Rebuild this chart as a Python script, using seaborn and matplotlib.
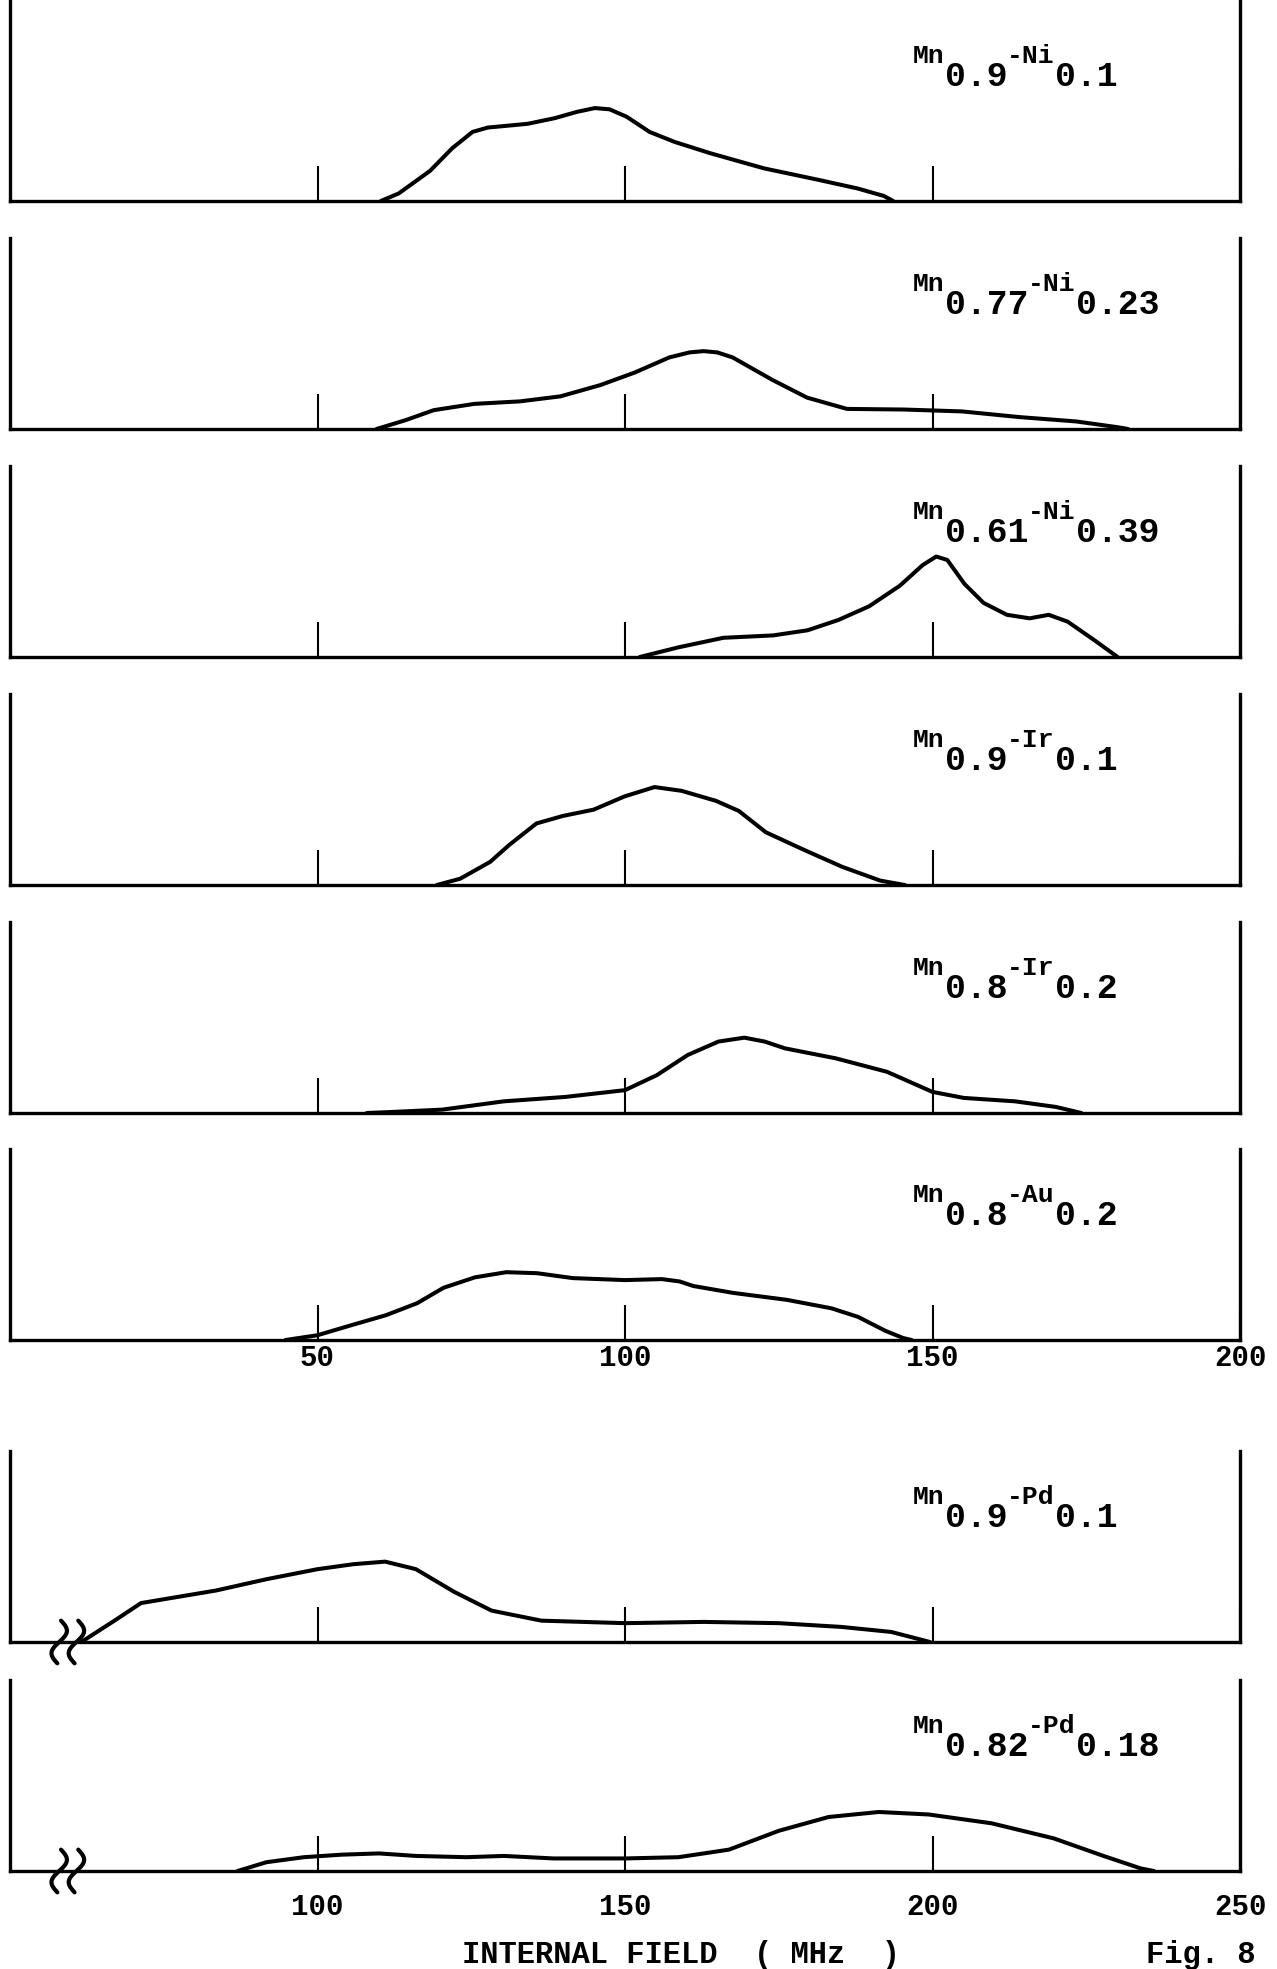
import numpy as np
import pandas as pd
import matplotlib
matplotlib.use("Agg")
import matplotlib.pyplot as plt
import seaborn as sns

# ---------------- data (x: internal field in MHz, y: relative amplitude, arb.) -------------
ni10_x = [60.3, 63.2, 68.3, 71.9, 75.2, 77.7, 81.0, 84.2, 88.6, 92.2, 95.1, 97.5, 100.3, 104.0,
          108.1, 113.9, 122.6, 131.3, 137.8, 142.1, 143.6]
ni10_y = [0, 6, 24, 42, 55, 58.5, 60, 61.5, 66, 71, 74, 73, 67, 55, 47, 38, 26, 17, 10, 4, 0]

ni23_x = [59.6, 64.3, 68.9, 75.5, 82.9, 89.5, 96.0, 101.6, 107.2, 110.5, 112.8, 115.0, 117.5,
          124.0, 129.6, 136.1, 145.4, 154.8, 164.1, 173.4, 180.0, 181.8]
ni23_y = [0, 7, 15, 20, 22, 26, 35, 45, 57, 61, 62, 61, 57, 39, 25, 16, 15.5, 14, 9.5, 6, 1.5, 0]

ni39_x = [102.4, 108.6, 116.0, 124.1, 129.7, 134.7, 139.7, 144.7, 148.4, 150.6, 152.4, 155.2,
          158.3, 162.1, 165.8, 168.9, 172.0, 176.4, 180.1]
ni39_y = [0, 7.6, 15.3, 17.2, 21.3, 29.5, 40.4, 56.8, 73.2, 80, 77.3, 58.2, 43.1, 33.6, 30.8,
          33.6, 28.1, 13.1, 0]

ir10_x = [69.4, 73.2, 78.1, 81.2, 85.6, 89.9, 94.9, 99.9, 104.8, 109.2, 114.8, 118.5, 122.9,
          129.1, 135.3, 141.5, 145.5]
ir10_y = [0, 5, 18.5, 32, 49, 55, 60, 70.5, 78, 75, 67, 59, 42, 28, 14.5, 3.5, 0]

ir20_x = [58.0, 62.0, 70.3, 80.3, 90.3, 100.0, 105.2, 110.2, 115.2, 119.4, 122.7, 126.0, 134.3,
          142.6, 150.0, 155.1, 163.4, 170.1, 174.2]
ir20_y = [0, 0.8, 2.7, 9.3, 12.8, 18.2, 30.2, 46.2, 56.9, 60, 56.9, 51.5, 43.5, 32.8, 16.8, 12,
          9.3, 4.8, 0]

au20_x = [44.8, 50.0, 55.3, 61.1, 66.2, 70.5, 75.6, 80.7, 85.7, 91.5, 100.0, 106.0, 108.9, 111.1,
          117.6, 126.3, 133.6, 137.9, 142.3, 145.2, 146.6]
au20_y = [0, 3.8, 11.5, 19.7, 29.3, 41.6, 49.9, 54, 53.2, 49.3, 47.7, 48.5, 46.6, 43, 37.5, 32,
          25.2, 18.4, 7.4, 1.6, 0]

pd10_x = [61.6, 67.3, 71.3, 77.4, 83.5, 91.7, 100.0, 105.9, 111.0, 116.0, 122.2, 128.3, 136.4,
          150.0, 162.8, 175.0, 185.2, 193.3, 199.6]
pd10_y = [0, 18, 31, 36, 41, 50, 58, 62, 64, 58, 40, 25, 17, 15, 16, 15, 12, 8, 0]

pd18_x = [87.0, 91.7, 97.8, 103.9, 110.0, 116.0, 124.2, 130.3, 138.4, 150.0, 158.7, 166.9, 175.0,
          183.1, 191.3, 199.4, 209.6, 219.7, 227.8, 233.9, 236.0]
pd18_y = [0, 7, 11, 13, 14, 12, 11, 12, 10, 10, 11, 17, 32, 43, 47, 45, 38, 26, 12, 2, 0]

labels = [("Mn", "0.9", "-Ni", "0.1"), ("Mn", "0.77", "-Ni", "0.23"), ("Mn", "0.61", "-Ni", "0.39"),
          ("Mn", "0.9", "-Ir", "0.1"), ("Mn", "0.8", "-Ir", "0.2"), ("Mn", "0.8", "-Au", "0.2"),
          ("Mn", "0.9", "-Pd", "0.1"), ("Mn", "0.82", "-Pd", "0.18")]
series = [(ni10_x, ni10_y), (ni23_x, ni23_y), (ni39_x, ni39_y), (ir10_x, ir10_y),
          (ir20_x, ir20_y), (au20_x, au20_y), (pd10_x, pd10_y), (pd18_x, pd18_y)]
top_ticks = [50, 100, 150, 200]
bottom_ticks = [100, 150, 200, 250]
xlabel = "INTERNAL FIELD  ( MHz  )"
figlabel = "Fig. 8"

# ---------------- style ----------------
sns.set_theme(style="white")
plt.rcParams['font.family'] = ['Liberation Mono', 'DejaVu Sans Mono']
plt.rcParams['font.weight'] = 'bold'
plt.rcParams['axes.facecolor'] = 'white'

W, H = 1277, 1969
SC = 1.2557  # px per y-unit
fig = plt.figure(figsize=(W / 100, H / 100), dpi=100)
fig.patch.set_facecolor('white')

baselines = [201, 429, 657, 885, 1113, 1340, 1642, 1871]
heights = [201, 191, 191, 191, 191, 191, 191, 191]
left_px, width_px = 10, 1230

for i, ((xs, ys), lab) in enumerate(zip(series, labels)):
    base, h = baselines[i], heights[i]
    ax = fig.add_axes([left_px / W, 1 - base / H, width_px / W, h / H])
    df = pd.DataFrame({"field": xs, "amp": ys})
    sns.lineplot(data=df, x="field", y="amp", ax=ax, color="black", linewidth=2.9,
                 sort=True, estimator=None)
    ylim = h / SC
    ax.set_ylim(0, ylim)
    bottom_group = i >= 6
    if bottom_group:
        ax.set_xlim(50, 250)
        ax.set_xticks(bottom_ticks)
    else:
        ax.set_xlim(0, 200)
        ax.set_xticks(top_ticks)
    ax.set_yticks([])
    ax.set_xlabel("")
    ax.set_ylabel("")
    for s in ["left", "right", "bottom"]:
        ax.spines[s].set_visible(True)
        ax.spines[s].set_color("black")
        ax.spines[s].set_linewidth(2.4)
    ax.spines["top"].set_visible(False)
    show = (i == 5) or (i == 7)
    ax.tick_params(axis='x', bottom=True, direction='in', length=25, width=1.5, color='black',
                   labelbottom=show, labelsize=21, labelcolor='black',
                   pad=(3 if i == 5 else 16))
    for tl in ax.get_xticklabels():
        tl.set_fontweight('bold')
    ax.grid(False)

    # compound label
    y0 = 110 / ylim
    t1 = ax.text(0.734, y0, lab[0], transform=ax.transAxes, fontsize=19, va='baseline',
                 ha='left', color='black', fontweight='bold')
    t2 = ax.annotate(lab[1], xy=(1, 0), xycoords=t1, xytext=(0, 6), textcoords='offset points',
                     fontsize=25, va='top', ha='left', color='black', fontweight='bold')
    t3 = ax.annotate(lab[2], xy=(1, 1), xycoords=t2, xytext=(0, -6), textcoords='offset points',
                     fontsize=19, va='bottom', ha='left', color='black', fontweight='bold')
    ax.annotate(lab[3], xy=(1, 0), xycoords=t3, xytext=(0, 6), textcoords='offset points',
                fontsize=25, va='top', ha='left', color='black', fontweight='bold')

    # axis-break marks on the two lower panels
    if bottom_group:
        t = np.linspace(-1, 1, 80)
        for xc in (58.0, 60.8):
            ax.plot(xc + 1.1 * np.sin(np.pi * t) + 0.3 * t, 17 * t, color='black', lw=3.0,
                    clip_on=False, solid_capstyle='round')

fig.text(462 / W, 1 - 1955 / H, xlabel, fontsize=22, va='center', ha='left', color='black',
         fontweight='bold')
fig.text(1146 / W, 1 - 1955 / H, figlabel, fontsize=22, va='center', ha='left', color='black',
         fontweight='bold')

fig.savefig("out.png", dpi=100, facecolor='white')
